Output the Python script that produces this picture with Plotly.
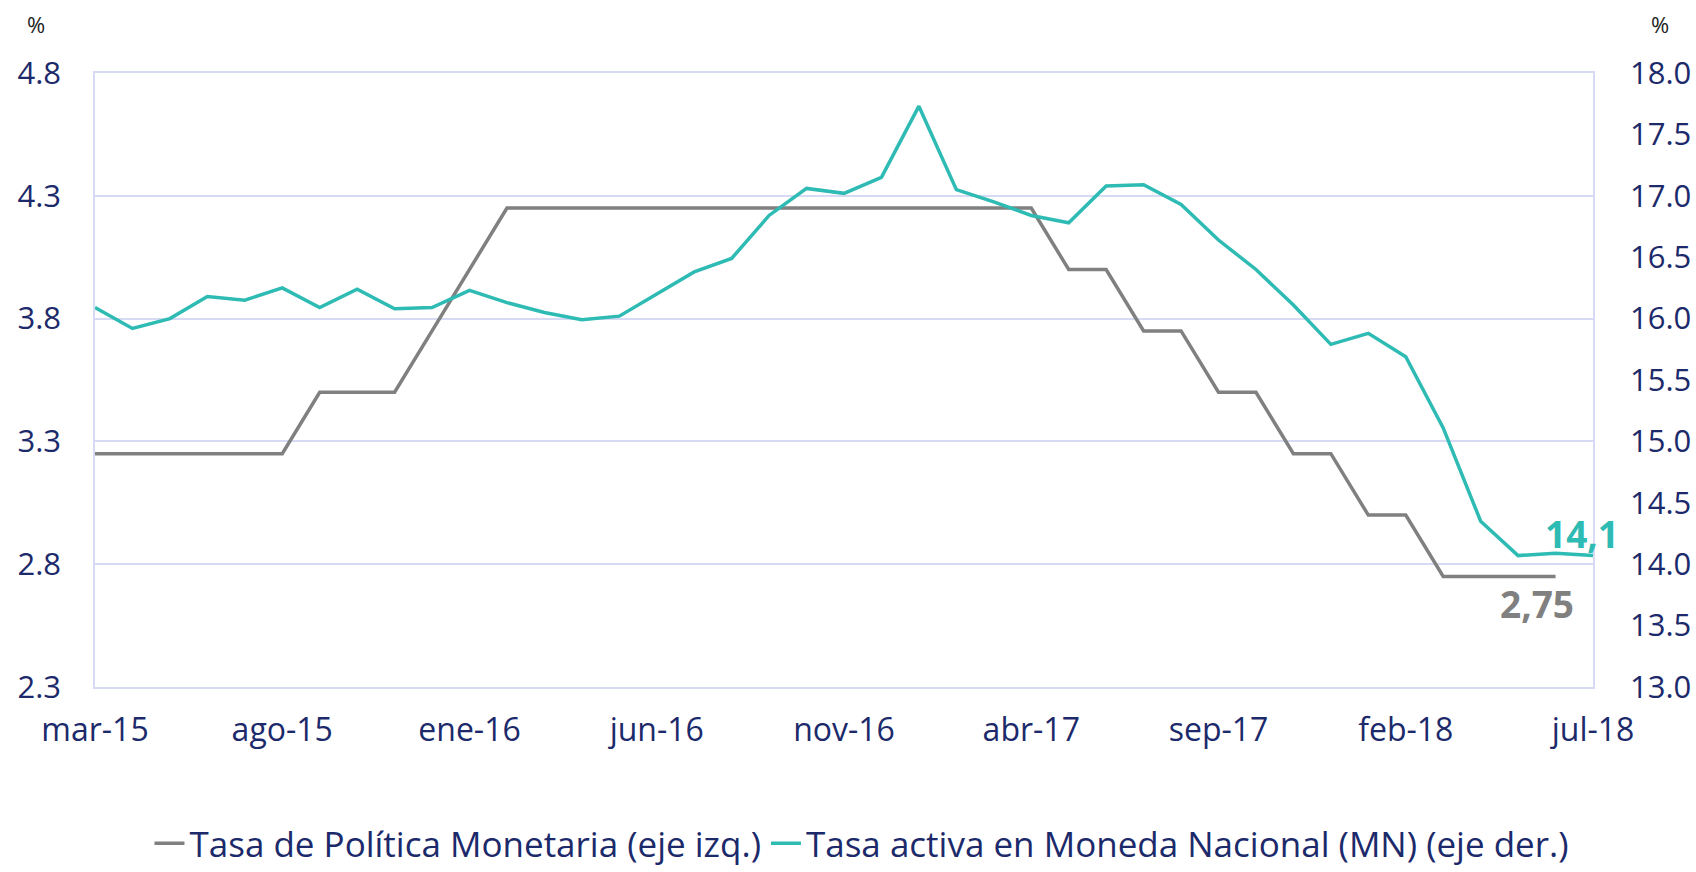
import plotly.graph_objects as go

# Monthly data mar-15 .. jul-18 (41 months)
months = ["mar-15","abr-15","may-15","jun-15","jul-15","ago-15","sep-15","oct-15","nov-15","dic-15",
          "ene-16","feb-16","mar-16","abr-16","may-16","jun-16","jul-16","ago-16","sep-16","oct-16",
          "nov-16","dic-16","ene-17","feb-17","mar-17","abr-17","may-17","jun-17","jul-17","ago-17",
          "sep-17","oct-17","nov-17","dic-17","ene-18","feb-18","mar-18","abr-18","may-18","jun-18","jul-18"]

tpm = [3.25,3.25,3.25,3.25,3.25,3.25,3.5,3.5,3.5,3.75,
       4.0,4.25,4.25,4.25,4.25,4.25,4.25,4.25,4.25,4.25,
       4.25,4.25,4.25,4.25,4.25,4.25,4.0,4.0,3.75,3.75,
       3.5,3.5,3.25,3.25,3.0,3.0,2.75,2.75,2.75,2.75,None]

tasa_mn = [16.09,15.92,16.00,16.18,16.15,16.25,16.09,16.24,16.08,16.09,
           16.23,16.13,16.05,15.99,16.02,16.20,16.38,16.49,16.84,17.06,
           17.02,17.15,17.73,17.05,16.95,16.84,16.78,17.08,17.09,16.93,
           16.64,16.40,16.11,15.79,15.88,15.69,15.11,14.35,14.07,14.09,14.07]

tick_labels = ["mar-15","ago-15","ene-16","jun-16","nov-16","abr-17","sep-17","feb-18","jul-18"]
left_ticks = [2.3, 2.8, 3.3, 3.8, 4.3, 4.8]
right_ticks = [13.0, 13.5, 14.0, 14.5, 15.0, 15.5, 16.0, 16.5, 17.0, 17.5, 18.0]

x_idx = list(range(len(months)))
tick_pos = [months.index(m) for m in tick_labels]

NAVY = "#1C2A6B"
TEAL = "#2EBBB3"
GRAY = "#808080"
GRID = "#D6DAF2"
FONT = "'Open Sans', Lato, sans-serif"

fig = go.Figure()
fig.add_trace(go.Scatter(x=x_idx, y=tpm, mode="lines", name="Tasa de Política Monetaria (eje izq.)",
                         line=dict(color=GRAY, width=3.5), yaxis="y"))
fig.add_trace(go.Scatter(x=x_idx, y=tasa_mn, mode="lines", name="Tasa activa en Moneda Nacional (MN) (eje der.)",
                         line=dict(color=TEAL, width=3.5), yaxis="y2"))

fig.update_layout(
    width=1696, height=872,
    margin=dict(l=95, r=103, t=73, b=185, autoexpand=False),
    paper_bgcolor="white", plot_bgcolor="white",
    font=dict(family=FONT, color=NAVY, size=31),
    showlegend=True,
    legend=dict(orientation="h", x=0.512, xanchor="center", y=-0.255, yanchor="middle",
                font=dict(size=35, color=NAVY, family=FONT), itemwidth=30, tracegroupgap=0),
    xaxis=dict(range=[0, 40], tickmode="array", tickvals=tick_pos, ticktext=tick_labels,
               showgrid=False, zeroline=False, showline=True, linecolor=GRID, linewidth=1.5, mirror=True,
               ticks="", ticklabelstandoff=14, automargin=False, tickfont=dict(size=32, color=NAVY)),
    yaxis=dict(range=[2.3, 4.8], tickmode="array", tickvals=left_ticks,
               ticktext=[f"{v:.1f}" for v in left_ticks],
               showgrid=True, gridcolor=GRID, gridwidth=1.5, zeroline=False,
               showline=True, linecolor=GRID, linewidth=1.5, automargin=False,
               ticks="", ticklabelstandoff=26, tickfont=dict(size=31, color=NAVY)),
    yaxis2=dict(range=[13.0, 18.0], tickmode="array", tickvals=right_ticks,
                ticktext=[f"{v:.1f}" for v in right_ticks],
                overlaying="y", side="right", showgrid=False, zeroline=False,
                showline=True, linecolor=GRID, linewidth=1.5, automargin=False,
                ticks="", ticklabelstandoff=29, tickfont=dict(size=31, color=NAVY)),
)

fig.add_annotation(x=38.5, y=2.75, xref="x", yref="y", text="<b>2,75</b>", showarrow=False,
                   yshift=-27, font=dict(size=37, color=GRAY, family=FONT))
fig.add_annotation(x=39.7, y=tasa_mn[-1], xref="x", yref="y2", text="<b>14,1</b>", showarrow=False,
                   yshift=22, font=dict(size=37, color=TEAL, family=FONT))
# "%" unit labels above each axis
fig.add_annotation(x=-59/1498, y=1 + 49/614, xref="paper", yref="paper", text="%", showarrow=False,
                   xanchor="center", yanchor="middle", font=dict(size=22, color="#222222", family=FONT))
fig.add_annotation(x=1 + 67/1498, y=1 + 49/614, xref="paper", yref="paper", text="%", showarrow=False,
                   xanchor="center", yanchor="middle", font=dict(size=22, color="#222222", family=FONT))

fig.write_html("out.html")
